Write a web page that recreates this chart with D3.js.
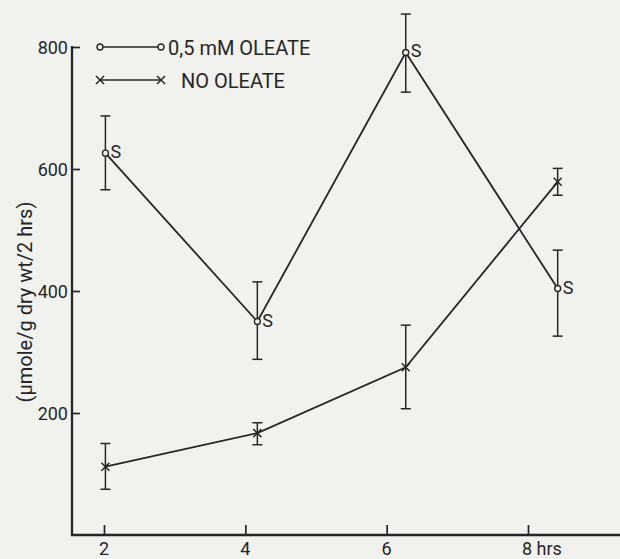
<!DOCTYPE html>
<html>
<head>
<meta charset="utf-8">
<script src="https://cdn.jsdelivr.net/npm/d3@7"></script>
<style>
  html, body { margin: 0; padding: 0; background: #f1f1ee; }
  svg { display: block; }
  text { font-family: Roboto, "Liberation Sans", sans-serif; fill: #262626; }
</style>
</head>
<body>
<svg id="chart" width="620" height="559"></svg>
<script>
// Sampling times (hrs) and rates (µmole/g dry wt/2 hrs)
const times = [2.02, 4.17, 6.27, 8.42];
const xTicks = [2, 4, 6, 8];
const xTickLabels = ["2", "4", "6", "8 hrs"];
const yTicks = [200, 400, 600, 800];

const oleate = [626, 350, 791, 404];
const oleateHigh = [687, 415, 854, 467];
const oleateLow = [566, 288, 726, 326];

const noOleate = [112, 167, 275, 579];
const noOleateHigh = [150, 184, 344, 601];
const noOleateLow = [75, 148, 207, 557];

const ink = "#262626";
const svg = d3.select("#chart");

const x = d3.scaleLinear().domain([2, 8]).range([104, 528]);
const y = d3.scaleLinear().domain([0, 800]).range([535, 47]);

// Axes: y axis with inward ticks, x axis with upward ticks
const gy = svg.append("g").attr("transform", "translate(72,0)")
  .call(d3.axisRight(y).tickValues(yTicks).tickSize(8).tickFormat(""));
gy.select(".domain").remove();
gy.selectAll(".tick line").attr("stroke", ink).attr("stroke-width", 1.7);
svg.append("line").attr("x1", 72).attr("x2", 72).attr("y1", y(800) - 1).attr("y2", 536)
  .attr("stroke", ink).attr("stroke-width", 2.3);
svg.selectAll(".ylab").data(yTicks).enter().append("text")
  .attr("x", 68).attr("y", d => y(d) + 6.5)
  .attr("text-anchor", "end").attr("font-size", 18).text(d => d);

const gx = svg.append("g").attr("transform", "translate(0,535)")
  .call(d3.axisTop(x).tickValues(xTicks).tickSize(10).tickFormat(""));
gx.select(".domain").remove();
gx.selectAll(".tick line").attr("stroke", ink).attr("stroke-width", 1.7);
svg.append("line").attr("x1", 71).attr("x2", 620).attr("y1", 535).attr("y2", 535)
  .attr("stroke", ink).attr("stroke-width", 2.3);
svg.selectAll(".xlab").data(xTicks).enter().append("text")
  .attr("x", (d, i) => i === 3 ? x(d) - 6 : x(d))
  .attr("y", 555)
  .attr("text-anchor", (d, i) => i === 3 ? "start" : "middle")
  .attr("font-size", 18).text((d, i) => xTickLabels[i]);

// Y axis title
svg.append("text")
  .attr("transform", "translate(32,302) rotate(-90)")
  .attr("text-anchor", "middle").attr("font-size", 20)
  .text("(\u03bcmole/g dry wt/2 hrs)");

const line = d3.line().x(d => x(d[0])).y(d => y(d[1]));

function drawSeries(vals, hi, lo, marker) {
  const pts = times.map((t, i) => [t, vals[i]]);
  svg.append("path").datum(pts).attr("d", line)
    .attr("fill", "none").attr("stroke", ink).attr("stroke-width", 1.8);
  const g = svg.append("g");
  times.forEach((t, i) => {
    const cx = x(t);
    g.append("line").attr("x1", cx).attr("x2", cx).attr("y1", y(hi[i])).attr("y2", y(lo[i]))
      .attr("stroke", ink).attr("stroke-width", 1.5);
    [hi[i], lo[i]].forEach(v => {
      g.append("line").attr("x1", cx - 5).attr("x2", cx + 5).attr("y1", y(v)).attr("y2", y(v))
        .attr("stroke", ink).attr("stroke-width", 1.5);
    });
    marker(g, cx, y(vals[i]));
  });
}

function circleMark(g, cx, cy) {
  g.append("circle").attr("cx", cx).attr("cy", cy).attr("r", 3)
    .attr("fill", "#f1f1ee").attr("stroke", ink).attr("stroke-width", 1.4);
}
function crossMark(g, cx, cy) {
  const s = 4;
  g.append("path").attr("d", `M${cx - s},${cy - s}L${cx + s},${cy + s}M${cx - s},${cy + s}L${cx + s},${cy - s}`)
    .attr("stroke", ink).attr("stroke-width", 1.5).attr("fill", "none");
}

drawSeries(noOleate, noOleateHigh, noOleateLow, crossMark);
drawSeries(oleate, oleateHigh, oleateLow, circleMark);

// Significance labels beside the oleate points
svg.selectAll(".sig").data(times).enter().append("text")
  .attr("x", d => x(d) + 5).attr("y", (d, i) => y(oleate[i]) + 5)
  .attr("font-size", 18).text("S");

// Legend
const lg = svg.append("g");
lg.append("line").attr("x1", 100).attr("x2", 161).attr("y1", 47).attr("y2", 47)
  .attr("stroke", ink).attr("stroke-width", 1.5);
circleMark(lg, 100, 47);
circleMark(lg, 161, 47);
lg.append("text").attr("x", 168).attr("y", 55).attr("font-size", 20).text("0,5 mM OLEATE");
lg.append("line").attr("x1", 100).attr("x2", 161).attr("y1", 80).attr("y2", 80)
  .attr("stroke", ink).attr("stroke-width", 1.5);
crossMark(lg, 100, 80);
crossMark(lg, 161, 80);
lg.append("text").attr("x", 181).attr("y", 88).attr("font-size", 20).text("NO OLEATE");
</script>
</body>
</html>
